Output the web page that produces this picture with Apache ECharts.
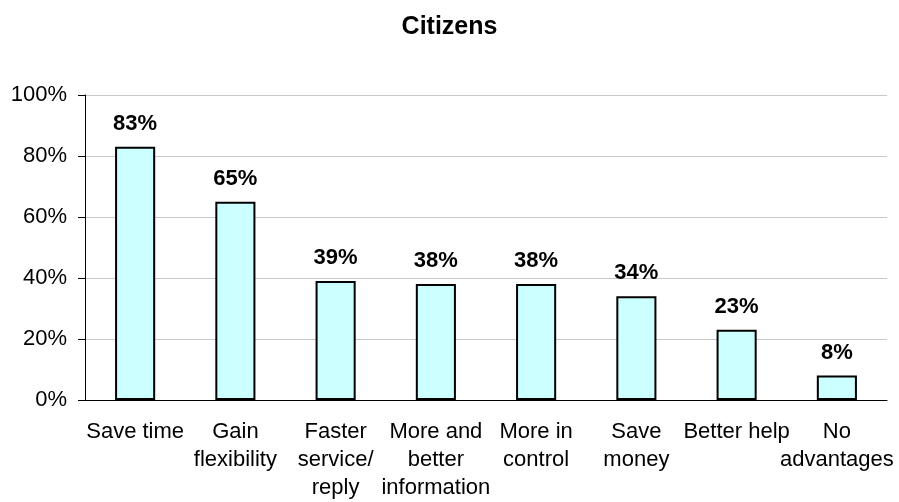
<!DOCTYPE html>
<html>
<head>
<meta charset="utf-8">
<script src="https://cdn.jsdelivr.net/npm/echarts@6/dist/echarts.min.js"></script>
<style>
html,body{margin:0;padding:0;background:#fff;}
#chart{width:899px;height:502px;}
</style>
</head>
<body>
<div id="chart"></div>
<script>
const chartTitle = 'Citizens';
const categories = ['Save time', 'Gain\nflexibility', 'Faster\nservice/\nreply', 'More and\nbetter\ninformation', 'More in\ncontrol', 'Save\nmoney', 'Better help', 'No\nadvantages'];
const values = [83, 65, 39, 38, 38, 34, 23, 8];
const yTicks = [0, 20, 40, 60, 80, 100];

const chart = echarts.init(document.getElementById('chart'));
chart.setOption({
  backgroundColor: '#ffffff',
  animation: false,
  title: {
    text: chartTitle,
    left: 'center',
    top: 10,
    textStyle: { fontFamily: 'Liberation Sans, Arial, sans-serif', fontSize: 25, fontWeight: 'bold', color: '#000' }
  },
  grid: { left: 85, right: 12, top: 95, bottom: 102, containLabel: false },
  xAxis: {
    type: 'category',
    data: categories,
    axisLine: { lineStyle: { color: '#000', width: 1 } },
    axisTick: { show: false },
    axisLabel: {
      interval: 0,
      margin: 18,
      fontFamily: 'Liberation Sans, Arial, sans-serif',
      fontSize: 22,
      lineHeight: 28,
      color: '#000',
      align: 'center'
    }
  },
  yAxis: {
    type: 'value',
    min: yTicks[0],
    max: yTicks[yTicks.length - 1],
    interval: 20,
    axisLine: { show: true, lineStyle: { color: '#000', width: 1 } },
    axisTick: { show: true, length: 7, lineStyle: { color: '#000' } },
    splitLine: { lineStyle: { color: '#c8c8c8', width: 1 } },
    axisLabel: {
      margin: 18,
      fontFamily: 'Liberation Sans, Arial, sans-serif',
      fontSize: 22,
      color: '#000',
      formatter: v => v + '%'
    }
  },
  series: [{
    type: 'bar',
    data: values,
    barWidth: '40%',
    itemStyle: { color: '#ccffff', borderColor: '#000', borderWidth: 2 },
    label: {
      show: true,
      position: 'top',
      distance: 12,
      formatter: p => p.value + '%',
      fontFamily: 'Liberation Sans, Arial, sans-serif',
      fontSize: 22,
      fontWeight: 'bold',
      color: '#000'
    }
  }]
});
</script>
</body>
</html>
